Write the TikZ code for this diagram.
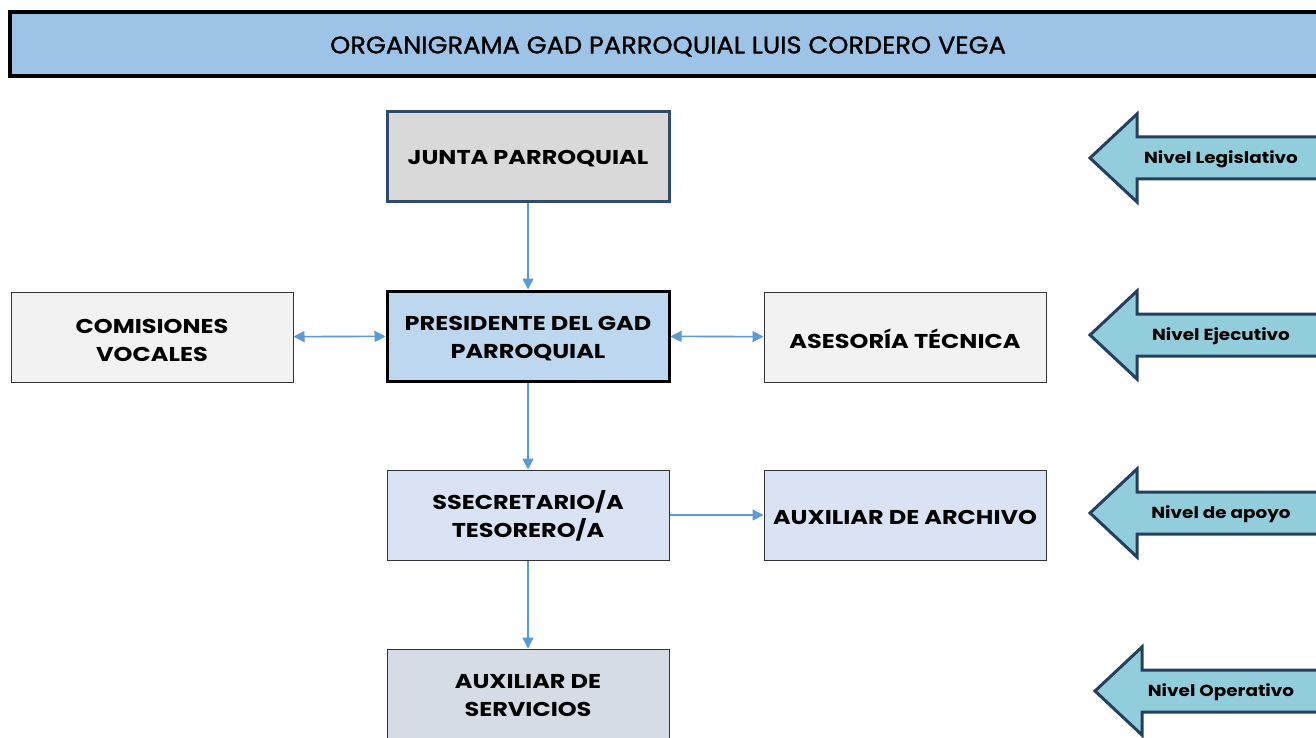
\documentclass[tikz,border=0pt]{standalone}
\usepackage{fontspec}
\setmainfont{Poppins}
\newfontfamily\boxfont[FakeStretch=1.2]{Poppins}
\newfontfamily\titlefont[FakeStretch=1.07,FakeBold=1.2]{Poppins}
\newfontfamily\levelfont[FakeStretch=1.15]{Poppins}
\usetikzlibrary{arrows.meta}
\definecolor{titlefill}{HTML}{9DC3E6}
\definecolor{juntafill}{HTML}{D9D9D9}
\definecolor{juntaline}{HTML}{2E4B69}
\definecolor{presfill}{HTML}{BDD7EE}
\definecolor{grayfill}{HTML}{F2F2F2}
\definecolor{secfill}{HTML}{DAE3F3}
\definecolor{servfill}{HTML}{D6DCE5}
\definecolor{connblue}{HTML}{5B9BD5}
\definecolor{levelfill}{HTML}{92CDDC}
\definecolor{levelline}{HTML}{243F60}
\tikzset{
  orgbox/.style={minimum width=282pt, minimum height=90pt, inner sep=0pt, line width=1pt, draw=black!80},
  boxtext/.style={inner sep=0pt, align=center, font=\boxfont\bfseries\fontsize{20}{28}\selectfont},
  conn/.style={draw=connblue, line width=1.6pt},
  tip/.style={-{Triangle[length=11pt,width=11pt]}},
  dtip/.style={{Triangle[length=11pt,width=11pt]}-{Triangle[length=11pt,width=11pt]}},
  levelarrow/.style={fill=levelfill, draw=levelline, line width=3pt, line join=miter},
  leveltext/.style={font=\levelfont\bfseries\fontsize{16}{18}\selectfont, inner sep=0pt}
}
\begin{document}
\begin{tikzpicture}[x=1pt,y=-1pt]
\useasboundingbox (0,0) rectangle (1316,738);
\clip (0,0) rectangle (1316,738);
\fill[white] (0,0) rectangle (1316,738);
% title bar
\draw[fill=titlefill, line width=4pt] (10,12) rectangle (1340,76);
\node[font=\titlefont\fontsize{24}{28}\selectfont, inner sep=0pt] (title) at (668,46.5) {ORGANIGRAMA GAD PARROQUIAL LUIS CORDERO VEGA};
% boxes
\node[orgbox, fill=juntafill, draw=juntaline, line width=3pt] (junta) at (528,156.5) {};
\node[orgbox, fill=presfill, draw=black, line width=3pt] (pres) at (528,336) {};
\node[orgbox, fill=grayfill] (comis) at (152,337) {};
\node[orgbox, fill=grayfill] (aseso) at (905,337) {};
\node[orgbox, fill=secfill] (secre) at (528,515) {};
\node[orgbox, fill=secfill] (archi) at (905,515) {};
\node[orgbox, fill=servfill] (servi) at (528,694) {};
% box texts
\node[boxtext] (juntaT) at ([yshift=-2.5pt]junta.center) {JUNTA PARROQUIAL};
\node[boxtext] (presT) at ([yshift=-3pt]pres.center) {PRESIDENTE DEL GAD\\PARROQUIAL};
\node[boxtext] (comisT) at ([yshift=-3pt]comis.center) {COMISIONES\\VOCALES};
\node[boxtext] (asesoT) at ([yshift=-2pt]aseso.center) {ASESORÍA TÉCNICA};
\node[boxtext] (secreT) at ([yshift=-1pt]secre.center) {SSECRETARIO/A\\TESORERO/A};
\node[boxtext] (archiT) at ([yshift=-2pt]archi.center) {AUXILIAR DE ARCHIVO};
\node[boxtext] (serviT) at ([yshift=-2pt]servi.center) {AUXILIAR DE\\SERVICIOS};
% connectors
\draw[conn, tip] (junta) -- (pres);
\draw[conn, dtip] (comis) -- (pres);
\draw[conn, dtip] (pres) -- (aseso);
\draw[conn, tip] (pres) -- (secre);
\draw[conn, tip] (secre) -- (archi);
\draw[conn, tip] (secre) -- (servi);
% level arrows
\foreach \c/\tx/\nm/\tipx in {158/Nivel Legislativo/lvA/1090, 335/Nivel Ejecutivo/lvB/1090, 513/Nivel de apoyo/lvC/1090, 691/Nivel Operativo/lvD/1095}{
  \draw[levelarrow] (\tipx,\c) -- (\tipx+47,\c-44) -- (\tipx+47,\c-21) -- (1340,\c-21)
     -- (1340,\c+21) -- (\tipx+47,\c+21) -- (\tipx+47,\c+44) -- cycle;
  \node[leveltext] (\nm) at (1221,\c+1.5) {\tx};
}
\end{tikzpicture}
\end{document}
